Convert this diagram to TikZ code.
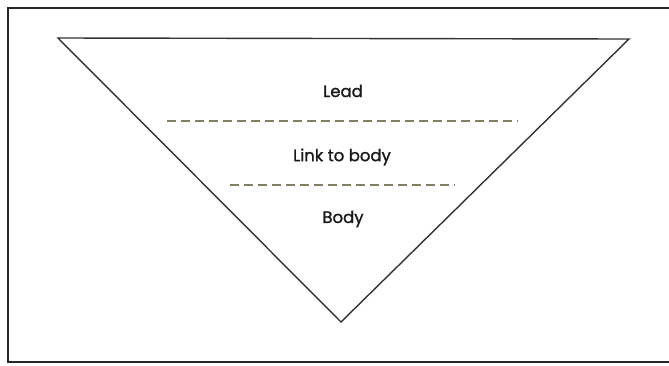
\documentclass[tikz,border=0pt]{standalone}
\usepackage{fontspec}
\setmainfont{Poppins}[FakeBold=1.2]
\begin{document}
\begin{tikzpicture}[x=1pt,y=-1pt,
  frame/.style={draw=black!85,line width=1.8pt},
  funnel/.style={draw=black!80,line width=1.4pt,line join=miter},
  sep/.style={draw=black!60!olive!70,line width=1.1pt,dash pattern=on 9pt off 5pt},
  lbl/.style={font=\fontsize{16.5}{19}\selectfont,text=black!90,inner sep=0pt}]
\useasboundingbox (0,0) rectangle (669,365);
\fill[white] (0,0) rectangle (669,365);
\draw[frame] (669,8) -- (8,8) -- (8,362) -- (669,362);
\coordinate (tl) at (58,38);
\coordinate (tr) at (629,39);
\coordinate (ap) at (341,322);
\draw[funnel] (tl) -- (tr) -- (ap) -- cycle;
\coordinate (d1a) at (167,121);
\coordinate (d1b) at (518,121);
\coordinate (d2a) at (230,185);
\coordinate (d2b) at (455,185);
\draw[sep] (d1a) -- (d1b);
\draw[sep] (d2a) -- (d2b);
\node[lbl] (lead) at (343,91) {Lead};
\node[lbl] (link) at (342,157) {Link to body};
\node[lbl] (body) at (343,219) {Body};
\end{tikzpicture}
\end{document}
